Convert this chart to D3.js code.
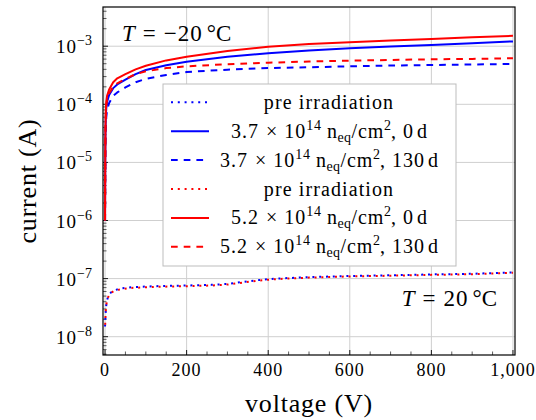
<!DOCTYPE html>
<html><head><meta charset="utf-8">
<script src="https://cdn.jsdelivr.net/npm/d3@7"></script>
<style>
body{margin:0;background:#fff}
svg{display:block}
text{font-family:"Liberation Serif","Times New Roman",serif;fill:#000}
</style>
</head><body>
<svg id="chart" width="536" height="420"></svg>
<script>
// ---------- data ----------
const voltCold = [0,0.5,1,2,3,5,10,20,30,50,75,100,150,200,300,400,500,600,700,800,900,1000];
const curBlueSolid  = [1e-6,8e-6,3e-5,6.5e-5,8.5e-5,1.1e-4,1.45e-4,1.9e-4,2.2e-4,2.65e-4,3.3e-4,3.9e-4,4.7e-4,5.4e-4,6.6e-4,7.6e-4,8.4e-4,9.2e-4,9.9e-4,1.05e-3,1.13e-3,1.21e-3];
const curBlueDashed = [1e-6,6e-6,2e-5,4.5e-5,6e-5,8e-5,1.05e-4,1.4e-4,1.6e-4,1.95e-4,2.4e-4,2.75e-4,3.2e-4,3.6e-4,3.95e-4,4.2e-4,4.35e-4,4.5e-4,4.65e-4,4.75e-4,4.85e-4,4.95e-4];
const curRedSolid   = [1e-6,1e-5,4e-5,8e-5,1.1e-4,1.4e-4,1.8e-4,2.4e-4,2.8e-4,3.3e-4,4.0e-4,4.6e-4,5.7e-4,6.6e-4,8.3e-4,9.8e-4,1.09e-3,1.17e-3,1.25e-3,1.33e-3,1.42e-3,1.51e-3];
const curRedDashed  = [1e-6,9e-6,3.5e-5,7e-5,9.5e-5,1.2e-4,1.55e-4,2.0e-4,2.3e-4,2.75e-4,3.3e-4,3.7e-4,4.2e-4,4.5e-4,4.9e-4,5.2e-4,5.45e-4,5.65e-4,5.8e-4,5.95e-4,6.05e-4,6.2e-4];

const voltWarm = [0,1,2,4,7,11,16,23,40,64,120,200,260,300,340,380,420,500,600,700,800,900,1000];
const curBlueDotted = [1.5e-8,2.2e-8,3.0e-8,4.0e-8,4.8e-8,5.4e-8,5.9e-8,6.3e-8,6.8e-8,7.1e-8,7.4e-8,7.6e-8,7.8e-8,8.1e-8,8.8e-8,9.5e-8,1.0e-7,1.06e-7,1.11e-7,1.14e-7,1.18e-7,1.21e-7,1.28e-7];
const curRedDotted  = [1.4e-8,2.1e-8,2.9e-8,3.9e-8,4.7e-8,5.3e-8,5.8e-8,6.2e-8,6.6e-8,6.9e-8,7.2e-8,7.4e-8,7.6e-8,7.9e-8,8.6e-8,9.3e-8,9.8e-8,1.04e-7,1.09e-7,1.12e-7,1.16e-7,1.19e-7,1.26e-7];

const xTicks = [0,200,400,600,800,1000];
const xTickLabels = ["0","200","400","600","800","1,000"];
const yTickExps = [-8,-7,-6,-5,-4,-3];
const legendLabels = [
  {kind:"pre"},
  {kind:"flu", f:"3.7", d:"0"},
  {kind:"flu", f:"3.7", d:"130"},
  {kind:"pre"},
  {kind:"flu", f:"5.2", d:"0"},
  {kind:"flu", f:"5.2", d:"130"}
];

// ---------- layout ----------
const L=103, R=515, T=7, B=355;
const svg = d3.select("#chart");
const x = d3.scaleLinear().domain([-5,1005]).range([L,R]);
const y = d3.scaleLog().domain([Math.pow(10,-8.315), Math.pow(10,-2.325)]).range([B,T]);

const BLUE="#0000ff", RED="#ff0000";
const DOT="2 4.8", DASH="6.7 6";

// grid
const gridColor="#cfcfcf";
svg.append("g").selectAll("line").data(xTicks).join("line")
  .attr("x1",d=>x(d)).attr("x2",d=>x(d)).attr("y1",T).attr("y2",B)
  .attr("stroke",gridColor).attr("stroke-width",1);
svg.append("g").selectAll("line").data(yTickExps).join("line")
  .attr("x1",L).attr("x2",R).attr("y1",d=>y(Math.pow(10,d))).attr("y2",d=>y(Math.pow(10,d)))
  .attr("stroke",gridColor).attr("stroke-width",1);

// minor ticks
const yMinor=[];
for(let e=-9;e<=-3;e++) for(let m=2;m<=9;m++){const v=m*Math.pow(10,e); if(v>y.domain()[0]&&v<y.domain()[1]) yMinor.push(v);}
svg.append("g").selectAll("line").data(yMinor).join("line")
  .attr("x1",L).attr("x2",L+3.5).attr("y1",d=>y(d)).attr("y2",d=>y(d))
  .attr("stroke","#333").attr("stroke-width",0.8);
svg.append("g").selectAll("line").data(yTickExps).join("line")
  .attr("x1",L).attr("x2",L+5).attr("y1",d=>y(Math.pow(10,d))).attr("y2",d=>y(Math.pow(10,d)))
  .attr("stroke","#000").attr("stroke-width",0.9);
const xMinor=d3.range(50,1000,50).filter(v=>v%200!==0);
svg.append("g").selectAll("line").data(xMinor).join("line")
  .attr("x1",d=>x(d)).attr("x2",d=>x(d)).attr("y1",B).attr("y2",B-3.5)
  .attr("stroke","#333").attr("stroke-width",0.8);
svg.append("g").selectAll("line").data(xTicks).join("line")
  .attr("x1",d=>x(d)).attr("x2",d=>x(d)).attr("y1",B).attr("y2",B-5)
  .attr("stroke","#000").attr("stroke-width",0.9);

// curves
svg.append("clipPath").attr("id","clip").append("rect").attr("x",L).attr("y",T).attr("width",R-L).attr("height",B-T);
const line = d3.line().x(d=>x(d[0])).y(d=>y(d[1]));
const curves = [
  {v:voltWarm, c:curBlueDotted, col:BLUE, dash:DOT, off:0},
  {v:voltCold, c:curBlueSolid, col:BLUE, dash:null},
  {v:voltCold, c:curBlueDashed, col:BLUE, dash:DASH, off:0},
  {v:voltWarm, c:curRedDotted, col:RED, dash:DOT, off:3.4},
  {v:voltCold, c:curRedSolid, col:RED, dash:null},
  {v:voltCold, c:curRedDashed, col:RED, dash:DASH, off:0}
];
const cg = svg.append("g").attr("clip-path","url(#clip)");
curves.forEach(s=>{
  const p = cg.append("path").datum(s.v.map((v,i)=>[v,s.c[i]]))
    .attr("d",line).attr("fill","none").attr("stroke",s.col).attr("stroke-width",2)
    .attr("stroke-linejoin","round");
  if(s.dash){p.attr("stroke-dasharray",s.dash).attr("stroke-dashoffset",s.off);}
});

// frame
svg.append("rect").attr("x",L).attr("y",T).attr("width",R-L).attr("height",B-T)
  .attr("fill","none").attr("stroke","#000").attr("stroke-width",1.2);

// tick labels
svg.append("g").selectAll("text").data(xTicks).join("text")
  .attr("x",d=>x(d)).attr("y",376).attr("text-anchor","middle")
  .attr("font-size",18).attr("letter-spacing",1)
  .text((d,i)=>xTickLabels[i]);
const yl = svg.append("g").selectAll("text").data(yTickExps).join("text")
  .attr("x",92).attr("y",d=>y(Math.pow(10,d))+7).attr("text-anchor","end").attr("font-size",19);
yl.append("tspan").attr("letter-spacing",1).text("10");
yl.append("tspan").attr("dy",-8).attr("font-size",14).text(d=>"\u2212"+(-d));

// axis labels
svg.append("text").attr("x",(L+R)/2).attr("y",412).attr("text-anchor","middle")
  .attr("font-size",26).attr("letter-spacing",0.8).text("voltage (V)");
svg.append("text").attr("transform",`translate(36,${(T+B)/2}) rotate(-90)`)
  .attr("text-anchor","middle").attr("font-size",26).attr("letter-spacing",0.8).text("current (A)");

// annotations
function tempLabel(xp,yp,anchor,val){
  const t=svg.append("text").attr("x",xp).attr("y",yp).attr("text-anchor",anchor).attr("font-size",23);
  t.append("tspan").attr("font-style","italic").text("T");
  t.append("tspan").attr("dx",8).text("=");
  t.append("tspan").attr("dx",8).attr("letter-spacing",1).text(val);
  t.append("tspan").attr("dx",4).text("\u00B0C");
}
tempLabel(122,41,"start","\u221220");
tempLabel(497,306,"end","20");

// legend
const lx0=163, ly0=84, lw=293, lh=182;
svg.append("rect").attr("x",lx0).attr("y",ly0).attr("width",lw).attr("height",lh)
  .attr("fill","#fff").attr("stroke","#bdbdbd").attr("stroke-width",1);
const rowY = i => 102.3 + i*28.9;
curves.forEach((s,i)=>{
  const ly=rowY(i);
  const p=svg.append("line").attr("x1",171).attr("x2",209).attr("y1",ly).attr("y2",ly)
    .attr("stroke",s.col).attr("stroke-width",2);
  if(s.dash) p.attr("stroke-dasharray",s.dash);
  const lab=legendLabels[i];
  const t=svg.append("text").attr("x",329).attr("y",ly+6.5).attr("text-anchor","middle").attr("font-size",20);
  if(lab.kind==="pre"){
    t.attr("letter-spacing",1.1).text("pre irradiation");
  } else {
    t.append("tspan").attr("letter-spacing",1).text(lab.f);
    t.append("tspan").attr("dx",7).text("\u00D7");
    t.append("tspan").attr("dx",7).attr("letter-spacing",1).text("10");
    t.append("tspan").attr("dy",-8).attr("font-size",14).attr("letter-spacing",0.8).text("14");
    t.append("tspan").attr("dy",8).attr("dx",5).attr("letter-spacing",0.5).text("n");
    t.append("tspan").attr("dy",4).attr("font-size",14).attr("letter-spacing",0.5).text("eq");
    t.append("tspan").attr("dy",-4).attr("letter-spacing",0.8).text("/cm");
    t.append("tspan").attr("dy",-8).attr("font-size",14).text("2");
    t.append("tspan").attr("dy",8).text(",");
    t.append("tspan").attr("dx",7).attr("letter-spacing",1).text(lab.d);
    t.append("tspan").attr("dx",3).text("d");
  }
});
</script>
</body></html>
